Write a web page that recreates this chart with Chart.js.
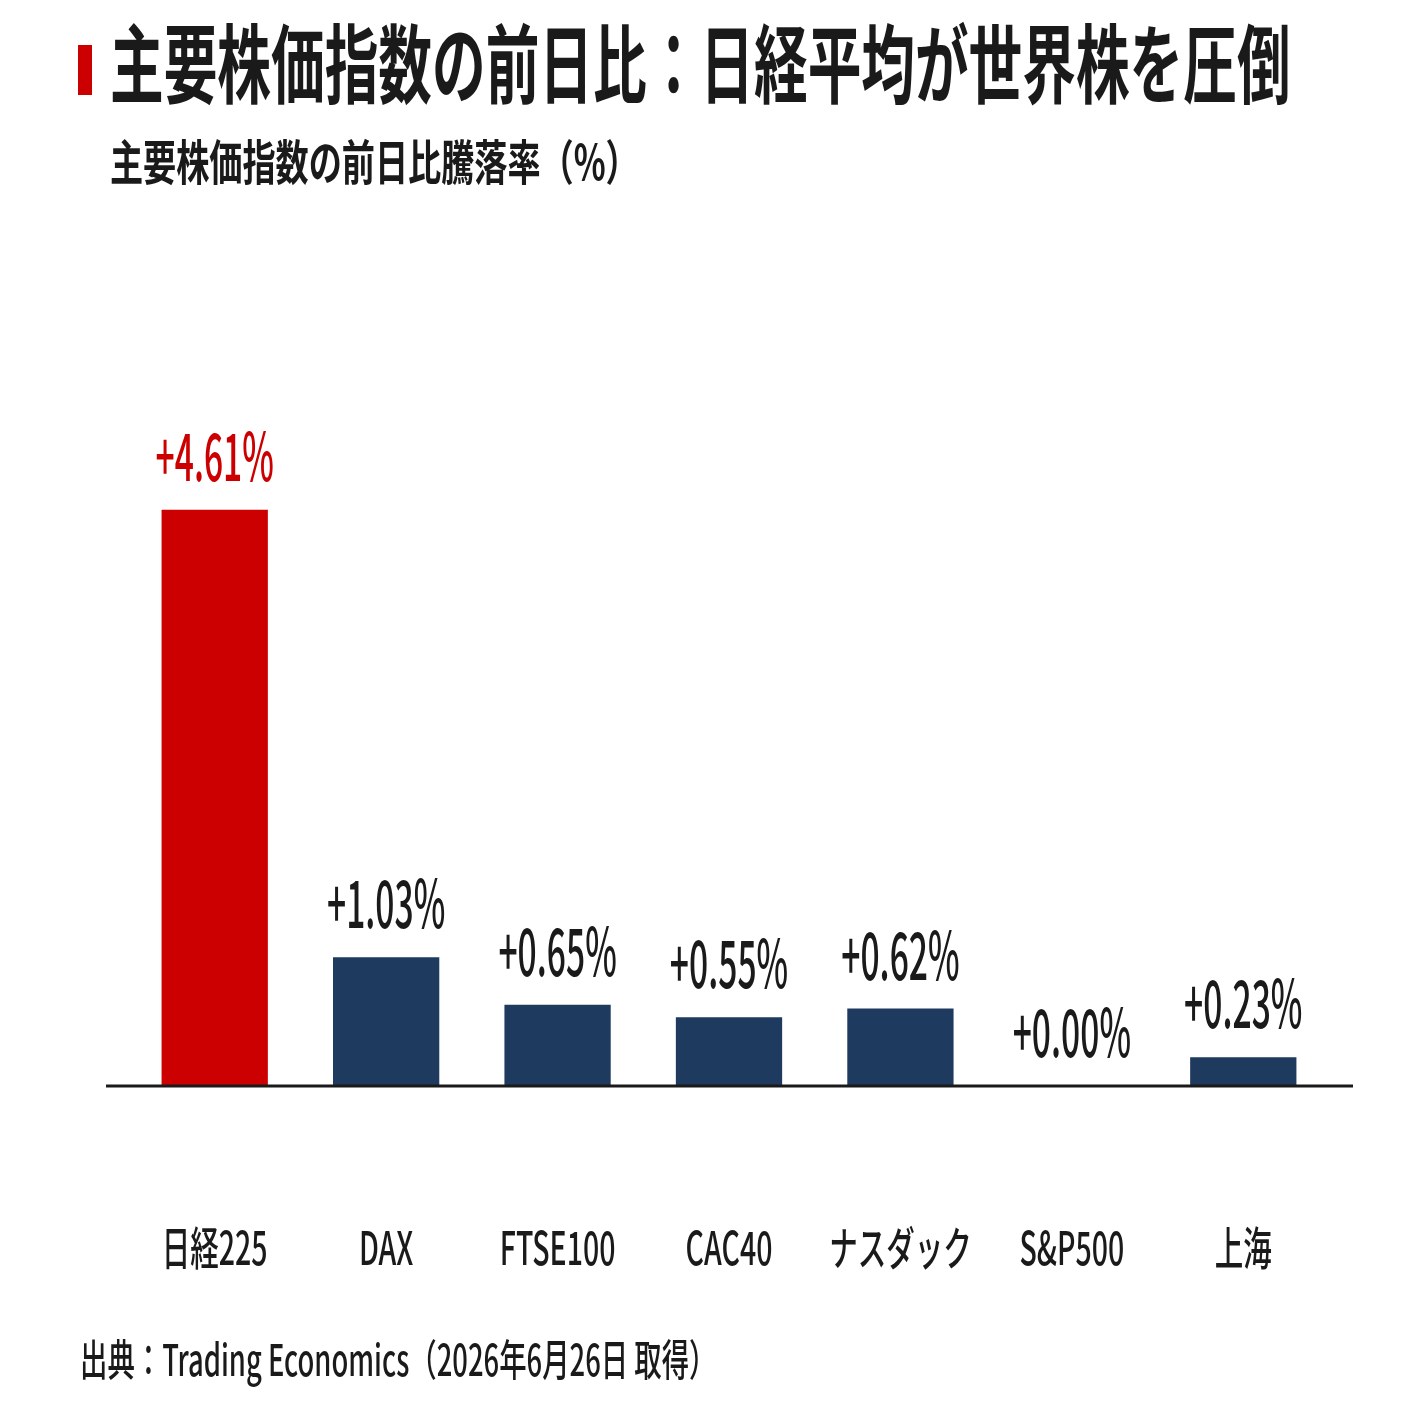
<!DOCTYPE html>
<html>
<head>
<meta charset="utf-8">
<script src="https://cdn.jsdelivr.net/npm/chart.js@4.4.1/dist/chart.umd.min.js"></script>
<style>
  html, body { margin: 0; padding: 0; background: #fff; }
  #wrap { width: 1410px; height: 1410px; }
</style>
</head>
<body>
<div id="wrap"><canvas id="c" width="1410" height="1410"></canvas></div>
<script>
// data
var categories = ['日経225', 'DAX', 'FTSE100', 'CAC40', 'ナスダック', 'S&P500', '上海'];
var changes = [4.61, 1.03, 0.65, 0.55, 0.62, 0.00, 0.23];
var valueLabels = ['+4.61%', '+1.03%', '+0.65%', '+0.55%', '+0.62%', '+0.00%', '+0.23%'];

var titleText = '主要株価指数の前日比：日経平均が世界株を圧倒';
var subtitleText = '主要株価指数の前日比騰落率（%）';
var sourceText = '出典：Trading Economics（2026年6月26日 取得）';

var RED = '#cc0000', NAVY = '#1f3a5f', INK = '#1a1a1a';
var FONT = '"Noto Sans CJK JP", "Noto Sans", sans-serif';

// condensed text: squeeze horizontally
function squeezeText(ctx, text, x, y, size, weight, color, align, base, sx) {
    ctx.save();
    ctx.font = weight + ' ' + size + 'px ' + FONT;
    ctx.fillStyle = color;
    ctx.textAlign = align;
    ctx.textBaseline = base;
    ctx.translate(x, y);
    ctx.scale(sx, 1);
    ctx.fillText(text, 0, 0);
    ctx.restore();
}

var textPlugin = {
    id: 'textPlugin',
    beforeDraw: function (chart) {
        var ctx = chart.ctx;
        ctx.save();
        ctx.fillStyle = '#fff';
        ctx.fillRect(0, 0, chart.width, chart.height);
        ctx.restore();
    },
    afterDatasetsDraw: function (chart) {
        var ctx = chart.ctx;
        var xs = chart.scales.x, ys = chart.scales.y;
        var zero = ys.getPixelForValue(0);

        // baseline
        ctx.save();
        ctx.strokeStyle = INK;
        ctx.lineWidth = 3;
        ctx.beginPath();
        ctx.moveTo(106, zero);
        ctx.lineTo(1353, zero);
        ctx.stroke();
        ctx.restore();

        // value labels + category labels
        var meta = chart.getDatasetMeta(0);
        for (var i = 0; i < categories.length; i++) {
            var bar = meta.data[i];
            var cx = xs.getPixelForValue(i);
            squeezeText(ctx, valueLabels[i], cx, bar.y - 29, 66, '500',
                i === 0 ? RED : INK, 'center', 'alphabetic', 0.51);
            squeezeText(ctx, categories[i], cx, 1248, 46, '500', INK, 'center', 'middle', 0.62);
        }

        // title block
        ctx.save();
        ctx.fillStyle = RED;
        ctx.fillRect(78, 45, 14, 50);
        ctx.restore();
        squeezeText(ctx, titleText, 110, 64, 86, '700', INK, 'left', 'middle', 0.624);
        squeezeText(ctx, subtitleText, 110, 162, 48, '700', INK, 'left', 'middle', 0.69);
        squeezeText(ctx, sourceText, 80, 1360, 43, '500', INK, 'left', 'middle', 0.637);
    }
};

new Chart(document.getElementById('c'), {
    type: 'bar',
    data: {
        labels: categories,
        datasets: [{
            data: changes,
            backgroundColor: changes.map(function (v, i) { return i === 0 ? RED : NAVY; }),
            borderWidth: 0,
            barPercentage: 0.62,
            categoryPercentage: 1.0
        }]
    },
    options: {
        responsive: false,
        animation: false,
        devicePixelRatio: 1,
        layout: { padding: { left: 129, right: 81, top: 211, bottom: 324 } },
        plugins: { legend: { display: false }, tooltip: { enabled: false }, title: { display: false } },
        scales: {
            x: { display: false },
            y: { display: false, min: 0, max: 7 }
        }
    },
    plugins: [textPlugin]
});
</script>
</body>
</html>
